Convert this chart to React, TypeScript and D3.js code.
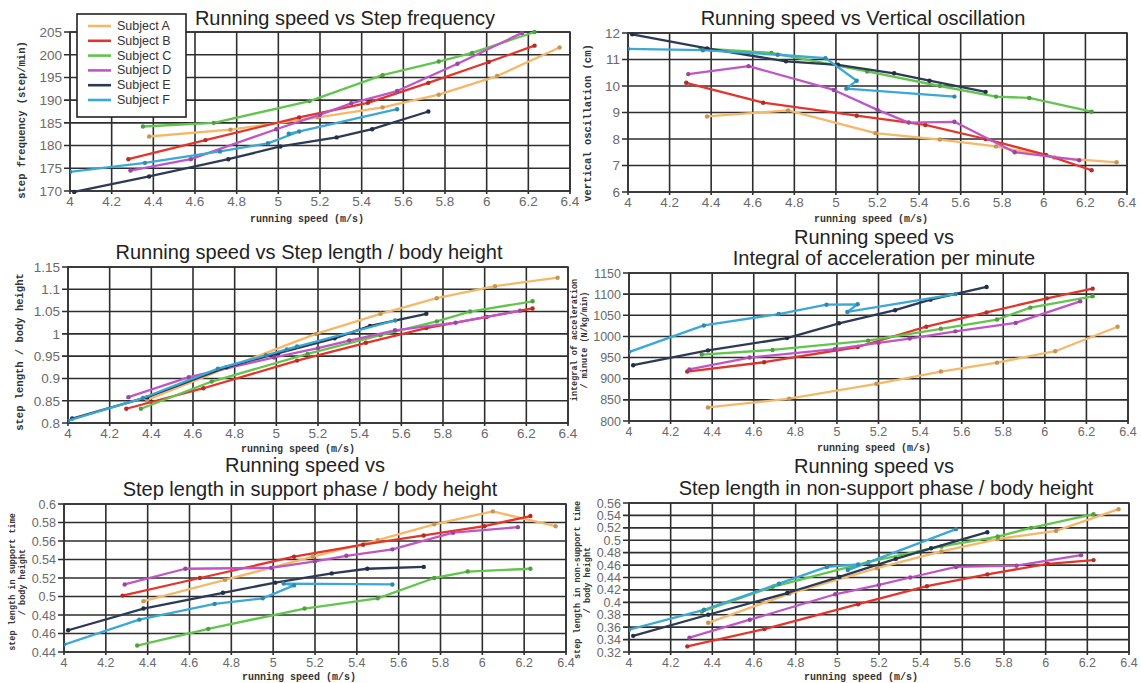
import React from 'react';
import * as d3 from 'd3';

// subjects and colours
const subjects = ['A', 'B', 'C', 'D', 'E', 'F'];
const colors: Record<string, string> = {
  A: '#f5b868',
  B: '#e2362c',
  C: '#62c54e',
  D: '#c056c6',
  E: '#2c3a55',
  F: '#3ba8d6',
};

// running speed (m/s) of each trial, per subject
const speedA = [4.38, 4.77, 5.19, 5.5, 5.77, 6.05, 6.35];
const speedB = [4.28, 4.65, 5.1, 5.43, 5.72, 6.01, 6.23];
const speedC = [4.35, 4.69, 5.15, 5.5, 5.77, 5.93, 6.23];
const speedD = [4.29, 4.58, 4.99, 5.2, 5.35, 5.57, 5.86, 6.17];
const speedE = [4.02, 4.38, 4.76, 5.01, 5.28, 5.45, 5.72];
const speedF = [4.0, 4.36, 4.72, 4.95, 5.1, 5.05, 5.57];
const speeds: Record<string, number[]> = { A: speedA, B: speedB, C: speedC, D: speedD, E: speedE, F: speedF };

const xTicks = [4, 4.2, 4.4, 4.6, 4.8, 5, 5.2, 5.4, 5.6, 5.8, 6, 6.2, 6.4];

// step frequency (step/min)
const stepFrequency: Record<string, number[]> = {
  A: [182, 183.5, 186.2, 188.4, 191.2, 195.3, 201.6],
  B: [177, 181.2, 186.2, 189.4, 193.8, 198.4, 202],
  C: [184.2, 185, 189.8, 195.5, 198.5, 200.4, 205],
  D: [174.5, 177, 183.6, 186.8, 189.3, 192, 198, 204.8],
  E: [169.8, 173.2, 177, 179.8, 181.8, 183.6, 187.5],
  F: [174.2, 176.2, 178.7, 180.5, 183.1, 182.6, 188],
};
const frequencyTicks = [170, 175, 180, 185, 190, 195, 200, 205];

// vertical oscillation (cm)
const verticalOscillation: Record<string, number[]> = {
  A: [8.85, 9.08, 8.22, 7.98, 7.72, 7.3, 7.12],
  B: [10.12, 9.37, 8.88, 8.53, 8.0, 7.4, 6.82],
  C: [11.42, 11.25, 10.55, 10.0, 9.6, 9.55, 9.03],
  D: [10.45, 10.75, 9.85, 9.1, 8.62, 8.65, 7.5, 7.2],
  E: [11.95, 11.42, 10.93, 10.8, 10.48, 10.2, 9.78],
  F: [11.4, 11.35, 11.18, 11.05, 10.2, 9.9, 9.6],
};
const oscillationTicks = [6, 7, 8, 9, 10, 11, 12];

// step length / body height
const stepLength: Record<string, number[]> = {
  A: [0.852, 0.925, 1.0, 1.045, 1.08, 1.107, 1.126],
  B: [0.832, 0.878, 0.94, 0.98, 1.013, 1.038, 1.057],
  C: [0.832, 0.893, 0.955, 0.997, 1.028, 1.05, 1.073],
  D: [0.858, 0.903, 0.947, 0.968, 0.985, 1.008, 1.025, 1.052],
  E: [0.81, 0.858, 0.925, 0.957, 0.99, 1.018, 1.045],
  F: [0.805, 0.856, 0.922, 0.952, 0.972, 0.965, 1.03],
};
const stepLengthTicks = [0.8, 0.85, 0.9, 0.95, 1, 1.05, 1.1, 1.15];

// integral of acceleration per minute (N/kg/min)
const accelIntegral: Record<string, number[]> = {
  A: [832, 853, 888, 917, 938, 965, 1023],
  B: [917, 939, 975, 1023, 1057, 1090, 1113],
  C: [957, 968, 990, 1018, 1040, 1068, 1095],
  D: [922, 950, 970, 985, 995, 1012, 1032, 1083],
  E: [932, 967, 996, 1031, 1062, 1087, 1117],
  F: [963, 1026, 1053, 1075, 1076, 1058, 1100],
};
const accelTicks = [800, 850, 900, 950, 1000, 1050, 1100, 1150];

// step length in support phase / body height
const supportLength: Record<string, number[]> = {
  A: [0.495, 0.518, 0.543, 0.561, 0.578, 0.592, 0.576],
  B: [0.501, 0.52, 0.543, 0.556, 0.566, 0.576, 0.587],
  C: [0.447, 0.465, 0.487, 0.498, 0.52, 0.527, 0.53],
  D: [0.513, 0.53, 0.531, 0.538, 0.544, 0.551, 0.569, 0.575],
  E: [0.4635, 0.487, 0.504, 0.515, 0.525, 0.53, 0.532],
  F: [0.448, 0.475, 0.492, 0.498, 0.512, 0.514, 0.513],
};
const supportTicks = [0.44, 0.46, 0.48, 0.5, 0.52, 0.54, 0.56, 0.58, 0.6];

// step length in non-support phase / body height
const flightLength: Record<string, number[]> = {
  A: [0.367, 0.414, 0.455, 0.482, 0.502, 0.515, 0.55],
  B: [0.329, 0.357, 0.397, 0.426, 0.445, 0.462, 0.468],
  C: [0.385, 0.425, 0.465, 0.49, 0.506, 0.52, 0.542],
  D: [0.343, 0.372, 0.413, 0.428, 0.44, 0.457, 0.459, 0.476],
  E: [0.346, 0.38, 0.415, 0.441, 0.47, 0.487, 0.513],
  F: [0.356, 0.388, 0.43, 0.457, 0.461, 0.452, 0.518],
};
const flightTicks = [0.32, 0.34, 0.36, 0.38, 0.4, 0.42, 0.44, 0.46, 0.48, 0.5, 0.52, 0.54, 0.56];

type Panel = {
  title: string[];
  titleX: number[];
  titleY: number[];
  yLabel: string[];
  yLabelX: number[];
  yLabelY: number;
  yLabelSize: number;
  tickSize: number;
  xLabelX: number;
  xLabelY: number;
  box: { left: number; right: number; top: number; bottom: number };
  values: Record<string, number[]>;
  yTicks: number[];
};

const panels: Panel[] = [
  {
    title: ['Running speed vs Step frequency'],
    titleX: [345], titleY: [25],
    yLabel: ['step frequency (step/min)'], yLabelX: [22], yLabelY: 120, yLabelSize: 10.5,
    tickSize: 13.5,
    xLabelX: 307, xLabelY: 222,
    box: { left: 70, right: 570, top: 32, bottom: 191 },
    values: stepFrequency, yTicks: frequencyTicks,
  },
  {
    title: ['Running speed vs Vertical oscillation'],
    titleX: [863], titleY: [25],
    yLabel: ['vertical oscillation (cm)'], yLabelX: [588], yLabelY: 123, yLabelSize: 10.5,
    tickSize: 13.5,
    xLabelX: 871, xLabelY: 222,
    box: { left: 628, right: 1127, top: 33, bottom: 192 },
    values: verticalOscillation, yTicks: oscillationTicks,
  },
  {
    title: ['Running speed vs Step length / body height'],
    titleX: [309], titleY: [259],
    yLabel: ['step length / body height'], yLabelX: [20], yLabelY: 352, yLabelSize: 10.5,
    tickSize: 13.5,
    xLabelX: 298, xLabelY: 452,
    box: { left: 68, right: 568, top: 267, bottom: 423 },
    values: stepLength, yTicks: stepLengthTicks,
  },
  {
    title: ['Running speed vs', 'Integral of acceleration per minute'],
    titleX: [874, 884], titleY: [244, 265],
    yLabel: ['integral of acceleration', '/ minute (N/kg/min)'], yLabelX: [575, 585], yLabelY: 340, yLabelSize: 8.5,
    tickSize: 12.5,
    xLabelX: 874, xLabelY: 451,
    box: { left: 629, right: 1128, top: 273, bottom: 421 },
    values: accelIntegral, yTicks: accelTicks,
  },
  {
    title: ['Running speed vs', 'Step length in support phase / body height'],
    titleX: [305, 310], titleY: [472, 496],
    yLabel: ['step length in support time', '/ body height'], yLabelX: [13, 23], yLabelY: 582, yLabelSize: 8.5,
    tickSize: 12.5,
    xLabelX: 299, xLabelY: 680,
    box: { left: 64, right: 566, top: 504, bottom: 652 },
    values: supportLength, yTicks: supportTicks,
  },
  {
    title: ['Running speed vs', 'Step length in non-support phase / body height'],
    titleX: [874, 886], titleY: [473, 495],
    yLabel: ['step length in non-support time', '/ body height'], yLabelX: [578, 588], yLabelY: 580, yLabelSize: 8.5,
    tickSize: 12.5,
    xLabelX: 861, xLabelY: 680,
    box: { left: 629, right: 1129, top: 503, bottom: 652 },
    values: flightLength, yTicks: flightTicks,
  },
];

const sans = '"Liberation Sans", Arial, sans-serif';
const mono = '"Liberation Mono", "Courier New", monospace';

function ChartPanel({ p }: { p: Panel }) {
  const { left, right, top, bottom } = p.box;
  const x = d3.scaleLinear().domain([4, 6.4]).range([left, right]);
  const y = d3
    .scaleLinear()
    .domain([p.yTicks[0], p.yTicks[p.yTicks.length - 1]])
    .range([bottom, top]);
  const line = d3
    .line<[number, number]>()
    .x((d) => x(d[0]))
    .y((d) => y(d[1]));
  const clipId = `clip-${left}-${top}`;

  return (
    <g>
      <rect x={left} y={top} width={right - left} height={bottom - top} fill="#fff" />
      <defs>
        <clipPath id={clipId}>
          <rect x={left} y={top - 3} width={right - left + 3} height={bottom - top + 6} />
        </clipPath>
      </defs>
      {/* grid */}
      {xTicks.map((t) => (
        <line key={'gx' + t} x1={x(t)} x2={x(t)} y1={top} y2={bottom + 3} stroke="#2e2e2e" strokeWidth={1.6} />
      ))}
      {p.yTicks.map((t) => (
        <line key={'gy' + t} x1={left - 6} x2={right} y1={y(t)} y2={y(t)} stroke="#2e2e2e" strokeWidth={1.6} />
      ))}
      <rect x={left} y={top} width={right - left} height={bottom - top} fill="none" stroke="#333" strokeWidth={1.6} />
      {/* tick labels */}
      {xTicks.map((t) => (
        <text key={'lx' + t} x={x(t)} y={bottom + 15} textAnchor="middle" fontFamily={sans} fontSize={p.tickSize} fill="#6a6a6a">
          {String(t)}
        </text>
      ))}
      {p.yTicks.map((t) => (
        <text key={'ly' + t} x={left - 8} y={y(t) + p.tickSize * 0.36} textAnchor="end" fontFamily={sans} fontSize={p.tickSize} fill="#6a6a6a">
          {String(t)}
        </text>
      ))}
      {/* series */}
      <g clipPath={`url(#${clipId})`}>
        {subjects.map((s) => {
          const pts: [number, number][] = speeds[s].map((v, i) => [v, p.values[s][i]]);
          const dot = d3.color(colors[s])!.darker(0.6).formatHex();
          return (
            <g key={s}>
              <path d={line(pts) || ''} fill="none" stroke={colors[s]} strokeWidth={2.3} strokeLinejoin="round" />
              {pts.map((d, i) => (
                <circle key={i} cx={x(d[0])} cy={y(d[1])} r={2.2} fill={dot} />
              ))}
            </g>
          );
        })}
      </g>
      {/* titles */}
      {p.title.map((t, i) => (
        <text key={'t' + i} x={p.titleX[i]} y={p.titleY[i]} textAnchor="middle" fontFamily={sans} fontSize={20} fill="#222">
          {t}
        </text>
      ))}
      <text x={p.xLabelX} y={p.xLabelY} textAnchor="middle" fontFamily={mono} fontWeight="bold" fontSize={10} fill="#333">
        running speed (m/s)
      </text>
      {p.yLabel.map((t, i) => (
        <text
          key={'yl' + i}
          transform={`translate(${p.yLabelX[i]},${p.yLabelY}) rotate(-90)`}
          textAnchor="middle"
          dominantBaseline="central"
          fontFamily={mono}
          fontWeight="bold"
          fontSize={p.yLabelSize}
          fill="#333"
        >
          {t}
        </text>
      ))}
    </g>
  );
}

function Legend() {
  return (
    <g>
      <rect x={77} y={14} width={109} height={103} fill="#fff" stroke="#222" strokeWidth={1.6} />
      {subjects.map((s, i) => {
        const cy = 26 + i * 14.8;
        return (
          <g key={s}>
            <line x1={88} x2={111} y1={cy} y2={cy} stroke={colors[s]} strokeWidth={2.6} />
            <text x={117} y={cy} dominantBaseline="central" fontFamily={sans} fontSize={12.5} fill="#333">
              {'Subject ' + s}
            </text>
          </g>
        );
      })}
    </g>
  );
}

export default function App() {
  return (
    <svg
      width={1141}
      height={683}
      style={{ position: 'absolute', left: 0, top: 0, display: 'block', background: '#fff' }}
    >
      <rect width={1141} height={683} fill="#fff" />
      {panels.map((p, i) => (
        <ChartPanel key={i} p={p} />
      ))}
      <Legend />
    </svg>
  );
}
